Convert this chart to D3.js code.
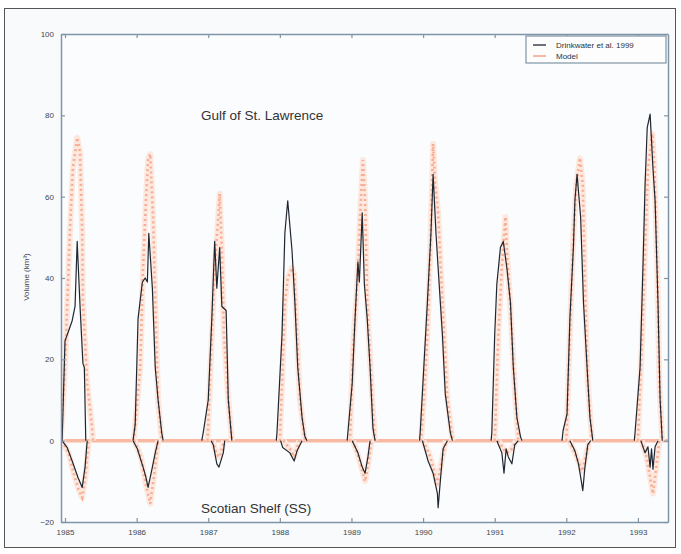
<!DOCTYPE html>
<html>
<head>
<meta charset="utf-8">
<script src="https://cdn.jsdelivr.net/npm/d3@7"></script>
<style>
  html, body { margin: 0; padding: 0; background: #fff; overflow: hidden; }
  svg { display: block; }
  svg text { font-family: "Liberation Sans", Arial, sans-serif; }
</style>
</head>
<body>
<svg id="chart" width="681" height="554"></svg>
<script>
// winters shown, one ice season each
var seasonYears = [1985, 1986, 1987, 1988, 1989, 1990, 1991, 1992, 1993];

// [offset from Jan 1 in years, volume km3], one array per season
var gulfObs = [
  [[-0.04,0],[0.0,24.6],[0.03,26],[0.1,29.5],[0.14,33],[0.17,49],[0.21,33],[0.25,19],[0.27,18],[0.29,0]],
  [[-0.05,0],[-0.02,4],[0.02,30],[0.08,39],[0.12,40],[0.15,39],[0.17,51],[0.22,37.5],[0.26,18],[0.3,10],[0.35,2],[0.37,0]],
  [[-0.09,0],[-0.07,2],[0.0,10],[0.05,30],[0.09,49],[0.12,37.5],[0.16,47.5],[0.19,33],[0.25,32],[0.28,10],[0.33,0]],
  [[-0.05,0],[-0.04,2],[0.03,26],[0.07,51],[0.11,59],[0.17,46.7],[0.21,34],[0.25,18],[0.31,5.7],[0.35,1],[0.38,0]],
  [[-0.06,0],[-0.05,2],[0.01,14],[0.05,30],[0.09,44],[0.11,39],[0.15,56],[0.18,38.5],[0.22,30],[0.26,18],[0.3,3],[0.33,0]],
  [[-0.05,0],[-0.04,2],[0.01,18],[0.06,34],[0.11,51],[0.14,65.5],[0.18,51],[0.21,42.5],[0.27,26],[0.31,11.5],[0.38,2],[0.41,0]],
  [[-0.05,0],[-0.04,2],[0.0,26],[0.03,38.5],[0.08,47.5],[0.12,49],[0.17,42.5],[0.22,34],[0.26,18],[0.31,5.7],[0.36,1],[0.38,0]],
  [[-0.06,0],[-0.045,2.5],[0.01,6.5],[0.05,30],[0.1,48],[0.12,59],[0.15,65.5],[0.2,55],[0.24,34],[0.29,18],[0.33,5.7],[0.37,0]],
  [[-0.05,0],[-0.04,2],[0.03,18],[0.07,42.5],[0.1,63],[0.13,77],[0.17,80.3],[0.21,67],[0.24,59],[0.28,34],[0.31,10],[0.34,0]]
];
var ssObs = [
  [[-0.04,0],[0.03,-1.7],[0.1,-5],[0.18,-9],[0.24,-11.5],[0.28,-6.5],[0.31,0]],
  [[-0.05,0],[0.01,-2],[0.09,-6.5],[0.13,-9],[0.16,-11.5],[0.22,-6.5],[0.26,-3],[0.3,0]],
  [[0.04,0],[0.07,-1],[0.12,-5.7],[0.15,-6.5],[0.21,-3],[0.23,0]],
  [[0.01,0],[0.04,-1.7],[0.14,-3],[0.2,-5],[0.24,-2.5],[0.31,0]],
  [[0.01,0],[0.09,-3],[0.15,-6.5],[0.19,-8],[0.23,-4],[0.26,0]],
  [[-0.01,0],[0.07,-5],[0.14,-8],[0.2,-13],[0.21,-16.5],[0.25,-8],[0.28,-2],[0.34,0]],
  [[0.03,0],[0.1,-3],[0.13,-8],[0.16,-2],[0.19,-4],[0.24,-5.7],[0.28,-1],[0.33,0]],
  [[0.05,0],[0.12,-2.5],[0.17,-5.7],[0.21,-10],[0.23,-12.3],[0.26,-6.5],[0.3,-1],[0.34,0]],
  [[0.04,0],[0.1,-3],[0.14,-1.5],[0.17,-6.5],[0.19,-2],[0.21,-7],[0.24,-1.5],[0.28,0]]
];
var gulfModel = [
  [[-0.06,0],[0.0,18],[0.04,38],[0.07,52],[0.11,67],[0.17,74.5],[0.21,71],[0.24,51],[0.25,34],[0.31,14],[0.38,3],[0.39,0]],
  [[-0.04,0],[0.05,18],[0.09,42.5],[0.13,59],[0.16,69],[0.19,70.5],[0.23,55],[0.26,34],[0.3,10],[0.35,0]],
  [[-0.01,0],[0.05,26],[0.09,42.5],[0.14,55],[0.16,60.7],[0.19,46.7],[0.22,26],[0.28,10],[0.33,0]],
  [[0.0,0],[0.03,14],[0.07,34],[0.11,40],[0.17,42.5],[0.2,41],[0.24,26],[0.28,10],[0.35,0]],
  [[-0.02,0],[0.02,22],[0.08,38.5],[0.12,55],[0.16,69],[0.19,59],[0.22,34],[0.29,10],[0.33,0]],
  [[-0.03,0],[0.01,10],[0.06,26],[0.1,46.7],[0.14,73],[0.17,63],[0.21,56],[0.27,34],[0.34,10],[0.41,0]],
  [[0.0,0],[0.05,26],[0.1,42.5],[0.15,55],[0.17,46.7],[0.2,38.5],[0.24,26],[0.29,10],[0.33,0]],
  [[0.0,0],[0.05,26],[0.1,51],[0.14,63],[0.19,69.5],[0.23,63],[0.26,38.5],[0.3,14],[0.36,0]],
  [[0.0,0],[0.06,26],[0.1,46.7],[0.14,67],[0.2,75.5],[0.23,67],[0.27,42.5],[0.3,14],[0.34,0]]
];
var ssModel = [
  [[-0.04,0],[0.05,-3],[0.12,-8],[0.19,-12],[0.24,-14],[0.29,-8],[0.33,0]],
  [[-0.03,0],[0.06,-4],[0.12,-10],[0.19,-15.5],[0.24,-9],[0.3,0]],
  [[0.06,0],[0.12,-3.5],[0.16,-4],[0.22,0]],
  [[0.05,0],[0.14,-2],[0.2,-4],[0.27,0]],
  [[0.02,0],[0.1,-4],[0.19,-10],[0.24,-5],[0.28,0]],
  [[0.0,0],[0.1,-4],[0.2,-10.7],[0.26,-5],[0.32,0]],
  [[0.05,0],[0.14,-2.5],[0.17,-3],[0.24,-2],[0.3,0]],
  [[0.04,0],[0.12,-3],[0.22,-7.5],[0.27,-4],[0.32,0]],
  [[0.05,0],[0.12,-4],[0.21,-13],[0.26,-6],[0.3,0]]
];

var yTicks = [100, 80, 60, 40, 20, 0, -20];
var xDomain = [1984.944, 1993.42];
var legendLabels = ["Drinkwater et al. 1999", "Model"];

var svg = d3.select("#chart");
var axisColor = "#7f94a6";
var modelColor = "#f39574";
var obsColor = "#1f2630";

// outer frame
svg.append("rect")
  .attr("x", 4.5).attr("y", 8.5)
  .attr("width", 671).attr("height", 539)
  .attr("fill", "#f8fafc")
  .attr("stroke", "#555").attr("stroke-width", 1);

var margin = { top: 34, right: 13, bottom: 32, left: 61 };
var innerWidth = 681 - margin.left - margin.right;
var innerHeight = 554 - margin.top - margin.bottom;

var g = svg.append("g")
  .attr("transform", "translate(" + margin.left + "," + margin.top + ")");

var xScale = d3.scaleLinear().domain(xDomain).range([0, innerWidth]);
var yScale = d3.scaleLinear().domain([-20, 100]).range([innerHeight, 0]);

g.append("rect")
  .attr("width", innerWidth).attr("height", innerHeight)
  .attr("fill", "#fbfcfd");

g.append("clipPath").attr("id", "clip")
  .append("rect").attr("width", innerWidth).attr("height", innerHeight);

var plot = g.append("g").attr("clip-path", "url(#clip)");

function toSeries(seasons) {
  return seasons.map(function (pts, i) {
    return pts.map(function (p) { return [seasonYears[i] + p[0], p[1]]; });
  });
}

var line = d3.line()
  .x(function (d) { return xScale(d[0]); })
  .y(function (d) { return yScale(d[1]); });

var modelSeries = toSeries(gulfModel).concat(toSeries(ssModel));
var obsSeries = toSeries(gulfObs).concat(toSeries(ssObs));

// model zero baseline (no ice outside the season)
plot.append("path")
  .attr("d", line([[xDomain[0], 0], [xDomain[1], 0]]))
  .attr("stroke", "#f8b9a2").attr("stroke-width", 3.5).attr("fill", "none");

// model: faint halo + dotted trace
plot.selectAll("path.model-halo")
  .data(modelSeries).enter().append("path")
  .attr("class", "model-halo")
  .attr("d", line)
  .attr("fill", "none")
  .attr("stroke", "#fde8df")
  .attr("stroke-width", 6)
  .attr("stroke-linejoin", "round");

plot.selectAll("path.model")
  .data(modelSeries).enter().append("path")
  .attr("class", "model")
  .attr("d", line)
  .attr("fill", "none")
  .attr("stroke", modelColor)
  .attr("stroke-width", 2.6)
  .attr("stroke-dasharray", "2,3")
  .attr("opacity", 0.7);

plot.selectAll("path.obs")
  .data(obsSeries).enter().append("path")
  .attr("class", "obs")
  .attr("d", line)
  .attr("fill", "none")
  .attr("stroke", obsColor)
  .attr("stroke-width", 1.2)
  .attr("stroke-linejoin", "round");

// axes, ticks pointing inward like the matlab box
var xAxis = d3.axisBottom(xScale)
  .tickValues(seasonYears)
  .tickFormat(d3.format("d"))
  .tickSizeInner(-4).tickSizeOuter(0).tickPadding(7);
var yAxis = d3.axisLeft(yScale)
  .tickValues(yTicks)
  .tickSizeInner(-4).tickSizeOuter(0).tickPadding(7);

var xAxisG = g.append("g").attr("transform", "translate(0," + innerHeight + ")").call(xAxis);
var yAxisG = g.append("g").call(yAxis);
var topG = g.append("g").call(d3.axisTop(xScale).tickValues(seasonYears).tickFormat("").tickSizeInner(-4).tickSizeOuter(0));
var rightG = g.append("g").attr("transform", "translate(" + innerWidth + ",0)")
  .call(d3.axisRight(yScale).tickValues(yTicks).tickFormat("").tickSizeInner(-4).tickSizeOuter(0));

[xAxisG, yAxisG, topG, rightG].forEach(function (a) {
  a.select(".domain").attr("stroke", axisColor).attr("stroke-width", 1.5);
  a.selectAll(".tick line").attr("stroke", axisColor).attr("stroke-width", 1.2);
  a.selectAll(".tick text").attr("fill", "#3c4652").style("font-size", "8px");
});

// legend
var lg = g.append("g").attr("transform", "translate(" + (innerWidth - 142) + ",2)");
lg.append("rect")
  .attr("width", 140).attr("height", 27)
  .attr("fill", "#fdfdfe").attr("stroke", axisColor).attr("stroke-width", 1.2);
lg.selectAll("line").data(legendLabels).enter().append("line")
  .attr("x1", 7).attr("x2", 20)
  .attr("y1", function (d, i) { return 9 + i * 11; })
  .attr("y2", function (d, i) { return 9 + i * 11; })
  .attr("stroke", function (d, i) { return i === 0 ? obsColor : "#f8b9a2"; })
  .attr("stroke-width", function (d, i) { return i === 0 ? 1.3 : 2; });
lg.selectAll("text").data(legendLabels).enter().append("text")
  .attr("x", 30)
  .attr("y", function (d, i) { return 12 + i * 11; })
  .attr("fill", "#2a3340")
  .style("font-size", "8px")
  .text(function (d) { return d; });

// region annotations
g.append("text")
  .attr("x", xScale(1986.9)).attr("y", yScale(80) + 5)
  .attr("fill", "#333")
  .style("font-size", "13.5px")
  .text("Gulf of St. Lawrence");
g.append("text")
  .attr("x", xScale(1986.9)).attr("y", yScale(-16.5) + 5)
  .attr("fill", "#333")
  .style("font-size", "13.5px")
  .text("Scotian Shelf (SS)");

svg.append("text")
  .attr("transform", "translate(29,277) rotate(-90)")
  .attr("text-anchor", "middle")
  .attr("fill", "#3c4652")
  .style("font-size", "8px")
  .text("Volume (km³)");
</script>
</body>
</html>
